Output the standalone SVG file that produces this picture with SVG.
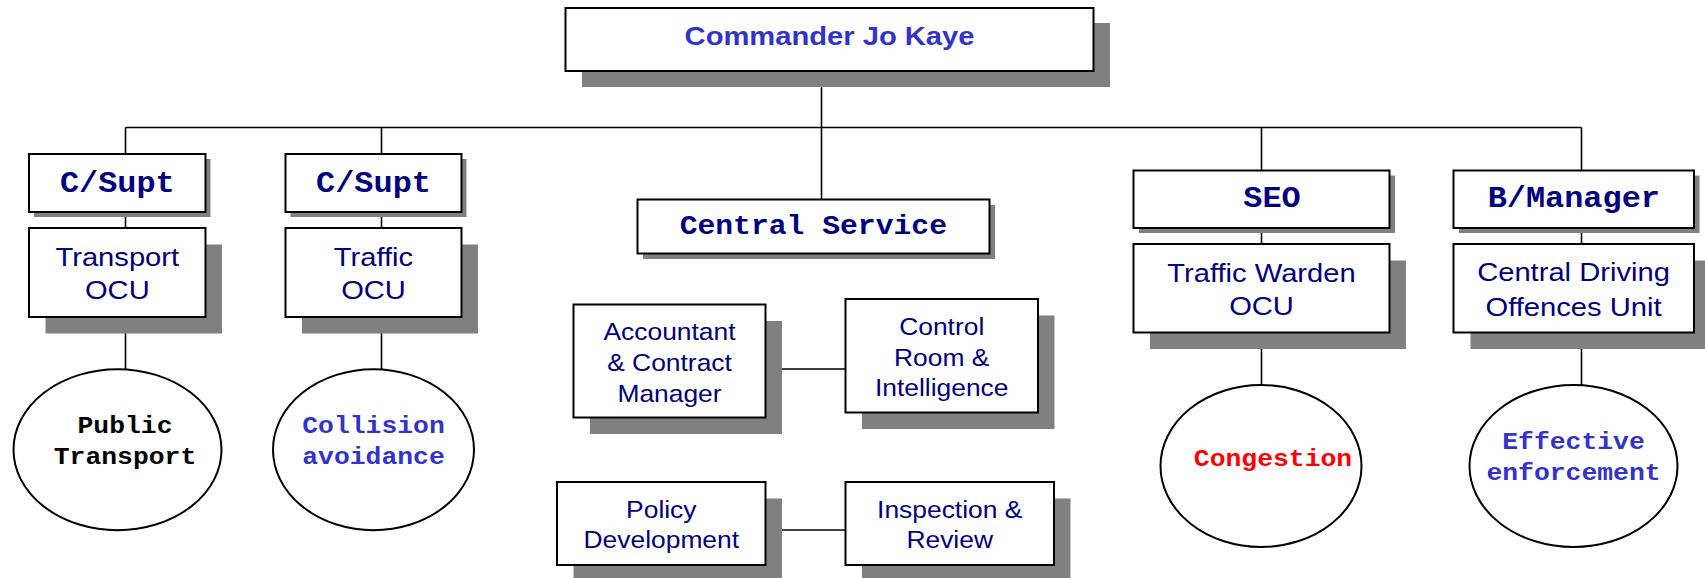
<svg xmlns="http://www.w3.org/2000/svg" width="1705" height="578" viewBox="0 0 1705 578">
<style>
.bg{fill:#ffffff}
.box{fill:#ffffff;stroke:#000000;stroke-width:2}
.sh{fill:#808080}
.ell{fill:#ffffff;stroke:#000000;stroke-width:2}
.ln{fill:none;stroke:#000000;stroke-width:1.6}
.ar{font-family:"Liberation Sans",Arial,sans-serif;fill:#000080;text-anchor:middle}
.big{font-size:26.5px}
.mid{font-size:24px}
.cmd{font-family:"Liberation Sans",Arial,sans-serif;font-weight:bold;font-size:26.5px;fill:#3333CC;text-anchor:middle}
.hd{font-family:"Liberation Mono","Courier New",monospace;font-weight:bold;font-size:29px;fill:#000080;text-anchor:middle}
.el{font-family:"Liberation Mono","Courier New",monospace;font-weight:bold;font-size:24px;text-anchor:middle}
.blk{fill:#000000}
.blu{fill:#3333CC}
.red{fill:#FF0000}
</style>
<rect class="bg" x="0" y="0" width="1705" height="578"/>

<g id="connectors">
<line class="ln" x1="821.5" y1="71" x2="821.5" y2="199.5"/>
<line class="ln" x1="125.5" y1="127.5" x2="1581.5" y2="127.5"/>
<line class="ln" x1="125.5" y1="127.5" x2="125.5" y2="154"/>
<line class="ln" x1="381.5" y1="127.5" x2="381.5" y2="154"/>
<line class="ln" x1="1261.5" y1="127.5" x2="1261.5" y2="170.5"/>
<line class="ln" x1="1581.5" y1="127.5" x2="1581.5" y2="170.5"/>
<line class="ln" x1="125.5" y1="212" x2="125.5" y2="228"/>
<line class="ln" x1="381.5" y1="212" x2="381.5" y2="228"/>
<line class="ln" x1="1261.5" y1="228" x2="1261.5" y2="244"/>
<line class="ln" x1="1581.5" y1="228" x2="1581.5" y2="244"/>
<line class="ln" x1="125.5" y1="317" x2="125.5" y2="369.5"/>
<line class="ln" x1="381.5" y1="317" x2="381.5" y2="369.5"/>
<line class="ln" x1="1261.5" y1="332.5" x2="1261.5" y2="385"/>
<line class="ln" x1="1581.5" y1="332.5" x2="1581.5" y2="385"/>
<line class="ln" x1="765.5" y1="369" x2="845.5" y2="369"/>
<line class="ln" x1="765.5" y1="530" x2="845.5" y2="530"/>
</g>

<g id="commander">
<rect class="sh" x="582" y="23" width="528" height="64"/>
<rect class="box" x="565.5" y="8" width="528" height="63"/>
<text class="cmd" x="0" y="45" transform="translate(829.5 0) scale(1.1 1)">Commander Jo Kaye</text>
</g>

<g id="csupt1">
<rect class="sh" x="34" y="159" width="176.5" height="58"/>
<rect class="box" x="29" y="154" width="176.5" height="58"/>
<text class="hd" x="0" y="192.3" transform="translate(117.3 0) scale(1.1 1)">C/Supt</text>
</g>
<g id="transport-ocu">
<rect class="sh" x="45.5" y="244.5" width="176.5" height="89"/>
<rect class="box" x="29" y="228" width="176.5" height="89"/>
<text class="ar big" transform="translate(117.3 0) scale(1.1 1)"><tspan x="0" y="266">Transport</tspan><tspan x="0" y="299.5">OCU</tspan></text>
</g>
<g id="public-transport">
<ellipse class="ell" cx="117.5" cy="449.7" rx="104" ry="80.5"/>
<text class="el blk" transform="translate(125 0) scale(1.1 1)"><tspan x="0" y="433.3">Public</tspan><tspan x="0" y="464">Transport</tspan></text>
</g>

<g id="csupt2">
<rect class="sh" x="290.5" y="159" width="176" height="58"/>
<rect class="box" x="285.5" y="154" width="176" height="58"/>
<text class="hd" x="0" y="192.3" transform="translate(373.5 0) scale(1.1 1)">C/Supt</text>
</g>
<g id="traffic-ocu">
<rect class="sh" x="302" y="244.5" width="176" height="89"/>
<rect class="box" x="285.5" y="228" width="176" height="89"/>
<text class="ar big" transform="translate(373.5 0) scale(1.1 1)"><tspan x="0" y="266">Traffic</tspan><tspan x="0" y="299.5">OCU</tspan></text>
</g>
<g id="collision-avoidance">
<ellipse class="ell" cx="373.5" cy="449.7" rx="100.5" ry="80.5"/>
<text class="el blu" transform="translate(373.5 0) scale(1.1 1)"><tspan x="0" y="433.3">Collision</tspan><tspan x="0" y="464">avoidance</tspan></text>
</g>

<g id="central-service">
<rect class="sh" x="643" y="205" width="352" height="54"/>
<rect class="box" x="637.5" y="199.5" width="352" height="54"/>
<text class="hd" x="0" y="234.3" transform="translate(813.3 0) scale(1.1 1)" style="font-size:27px">Central Service</text>
</g>
<g id="accountant">
<rect class="sh" x="590" y="321" width="192" height="113"/>
<rect class="box" x="573.5" y="304.5" width="192" height="113"/>
<text class="ar mid" transform="translate(669.5 0) scale(1.1 1)"><tspan x="0" y="340">Accountant</tspan><tspan x="0" y="370.7">&amp; Contract</tspan><tspan x="0" y="401.7">Manager</tspan></text>
</g>
<g id="control-room">
<rect class="sh" x="862" y="315.5" width="192.5" height="113.5"/>
<rect class="box" x="845.5" y="299" width="192.5" height="113.5"/>
<text class="ar mid" transform="translate(941.7 0) scale(1.1 1)"><tspan x="0" y="335">Control</tspan><tspan x="0" y="366">Room &amp;</tspan><tspan x="0" y="396">Intelligence</tspan></text>
</g>
<g id="policy">
<rect class="sh" x="573.5" y="498.5" width="208.5" height="83"/>
<rect class="box" x="557" y="482" width="208.5" height="83"/>
<text class="ar mid" transform="translate(661.3 0) scale(1.1 1)"><tspan x="0" y="518.3">Policy</tspan><tspan x="0" y="548.3">Development</tspan></text>
</g>
<g id="inspection">
<rect class="sh" x="862" y="498.5" width="208.5" height="83"/>
<rect class="box" x="845.5" y="482" width="208.5" height="83"/>
<text class="ar mid" transform="translate(949.7 0) scale(1.1 1)"><tspan x="0" y="518.3">Inspection &amp;</tspan><tspan x="0" y="548.3">Review</tspan></text>
</g>

<g id="seo">
<rect class="sh" x="1139" y="175.5" width="256" height="57.5"/>
<rect class="box" x="1133.5" y="170.5" width="256" height="57.5"/>
<text class="hd" x="0" y="207.3" transform="translate(1272 0) scale(1.1 1)">SEO</text>
</g>
<g id="traffic-warden-ocu">
<rect class="sh" x="1150" y="260.5" width="256" height="88.5"/>
<rect class="box" x="1133.5" y="244" width="256" height="88.5"/>
<text class="ar big" transform="translate(1261.5 0) scale(1.1 1)"><tspan x="0" y="281.7">Traffic Warden</tspan><tspan x="0" y="315">OCU</tspan></text>
</g>
<g id="congestion">
<ellipse class="ell" cx="1261" cy="466" rx="100.5" ry="81"/>
<text class="el red" x="0" y="466" transform="translate(1273 0) scale(1.1 1)">Congestion</text>
</g>

<g id="b-manager">
<rect class="sh" x="1459" y="175.5" width="240.5" height="57.5"/>
<rect class="box" x="1453.5" y="170.5" width="240.5" height="57.5"/>
<text class="hd" x="0" y="207.3" transform="translate(1573.8 0) scale(1.1 1)">B/Manager</text>
</g>
<g id="cdou">
<rect class="sh" x="1470.5" y="260.5" width="240.5" height="88.5"/>
<rect class="box" x="1453.5" y="244" width="240.5" height="88.5"/>
<text class="ar big" transform="translate(1573.5 0) scale(1.1 1)"><tspan x="0" y="280.7">Central Driving</tspan><tspan x="0" y="315.7">Offences Unit</tspan></text>
</g>
<g id="effective-enforcement">
<ellipse class="ell" cx="1573.5" cy="466" rx="104" ry="81"/>
<text class="el blu" transform="translate(1573.5 0) scale(1.1 1)"><tspan x="0" y="449.3">Effective</tspan><tspan x="0" y="480">enforcement</tspan></text>
</g>
</svg>
